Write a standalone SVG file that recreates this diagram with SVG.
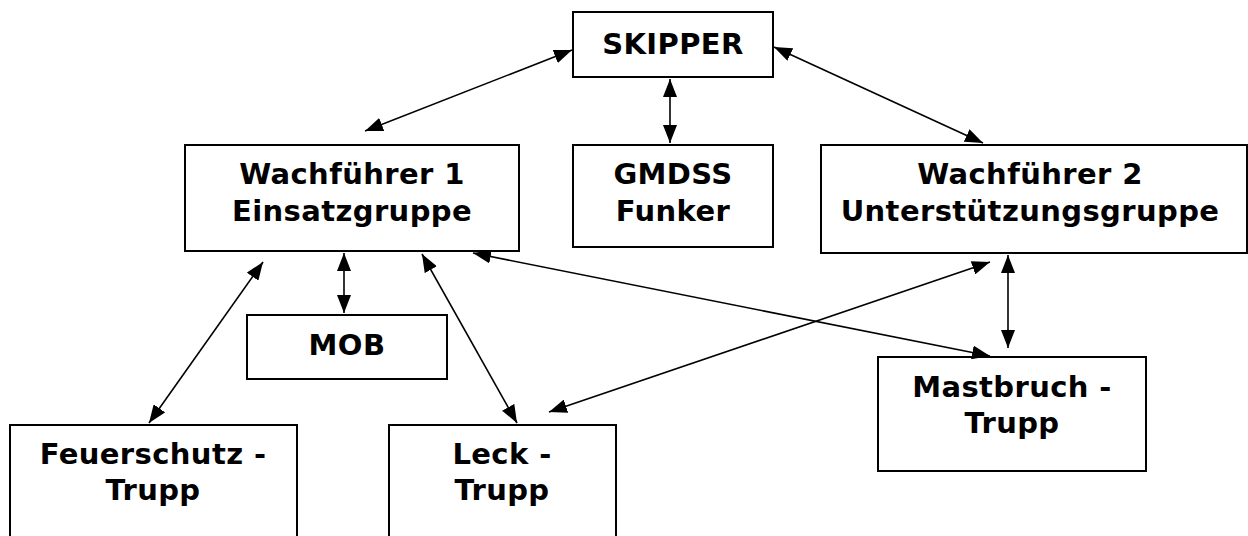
<svg xmlns="http://www.w3.org/2000/svg" width="1248" height="536" viewBox="0 0 1248 536">
<defs>
<style>
.box{fill:#fff;stroke:#000;stroke-width:2}
.t{font-family:"DejaVu Sans",Verdana,sans-serif;font-weight:bold;font-size:29px;letter-spacing:0.4px;fill:#000;text-anchor:middle}
.c{stroke:#000;stroke-width:1.6;fill:none;marker-start:url(#a);marker-end:url(#a)}
</style>
<marker id="a" viewBox="0 0 18 14" refX="18" refY="7" markerWidth="18" markerHeight="14" markerUnits="userSpaceOnUse" orient="auto-start-reverse">
<path d="M0,0 L18,7 L0,14 z" fill="#000"/>
</marker>
</defs>
<rect width="1248" height="536" fill="#fff"/>
<g id="skipper"><rect class="box" x="573" y="12" width="200" height="65"/><text class="t" x="673" y="54">SKIPPER</text></g>
<g id="wf1"><rect class="box" x="185" y="145" width="334" height="106"/><text class="t" x="352" y="184">Wachführer 1</text><text class="t" x="352" y="221">Einsatzgruppe</text></g>
<g id="gmdss"><rect class="box" x="573" y="145" width="200" height="102"/><text class="t" x="673" y="184">GMDSS</text><text class="t" x="673" y="221">Funker</text></g>
<g id="wf2"><rect class="box" x="821" y="145" width="426" height="108"/><text class="t" x="1030" y="184">Wachführer 2</text><text class="t" x="1030" y="221">Unterstützungsgruppe</text></g>
<g id="mob"><rect class="box" x="247" y="315" width="200" height="64"/><text class="t" x="347" y="355">MOB</text></g>
<g id="feuer"><rect class="box" x="10" y="425" width="287" height="125"/><text class="t" x="153" y="464">Feuerschutz -</text><text class="t" x="153" y="500">Trupp</text></g>
<g id="leck"><rect class="box" x="389" y="425" width="227" height="125"/><text class="t" x="502" y="464">Leck -</text><text class="t" x="502" y="500">Trupp</text></g>
<g id="mast"><rect class="box" x="878" y="357" width="268" height="114"/><text class="t" x="1012" y="397">Mastbruch -</text><text class="t" x="1012" y="433">Trupp</text></g>
<g id="connectors">
<line class="c" x1="572" y1="50" x2="365" y2="131"/>
<line class="c" x1="774" y1="47" x2="983" y2="143"/>
<line class="c" x1="670" y1="79" x2="670" y2="143"/>
<line class="c" x1="344" y1="253" x2="344" y2="313"/>
<line class="c" x1="263" y1="262" x2="149" y2="423"/>
<line class="c" x1="422" y1="254" x2="517" y2="423"/>
<line class="c" x1="473" y1="253" x2="990" y2="356"/>
<line class="c" x1="990" y1="262" x2="549" y2="412"/>
<line class="c" x1="1008" y1="255" x2="1008" y2="348"/>
</g>
</svg>
